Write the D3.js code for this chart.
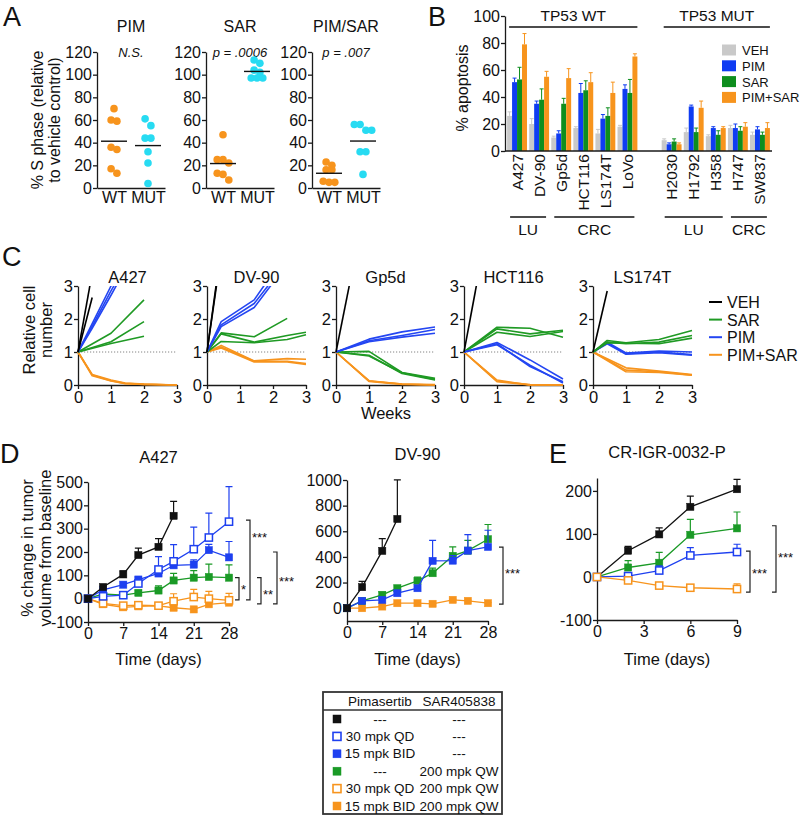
<!DOCTYPE html>
<html><head><meta charset="utf-8">
<script src="https://cdn.jsdelivr.net/npm/d3@7"></script>
<style>body{margin:0;background:#fff} svg{display:block}</style>
</head><body><svg id="chart" width="800" height="816"></svg>
<script>
// ---------------- DATA ----------------
// Panel A
const aGroups = ["WT", "MUT"];
const aTitles = ["PIM", "SAR", "PIM/SAR"];
const aNotes = ["N.S.", "p = .0006", "p = .007"];
const aYTicks = [0, 20, 40, 60, 80, 100, 120];
const aPimWT = [70, 60, 59, 36, 34, 13, 17];
const aPimMUT = [55, 61, 44, 44, 32, 22, 4];
const aSarWT = [47, 25, 25, 22, 13, 12, 7];
const aSarMUT = [113, 110, 104, 102, 97, 97, 97];
const aComboWT = [23, 20, 16, 16, 6, 5, 5];
const aComboMUT = [56, 56, 51, 51, 32, 32, 12];

// Panel B
const bWT = ["A427", "DV-90", "Gp5d", "HCT116", "LS174T", "LoVo"];
const bMUT = ["H2030", "H1792", "H358", "H747", "SW837"];
const bTissue = ["LU", "LU", "CRC", "CRC", "CRC", "CRC", "LU", "LU", "LU", "CRC", "CRC"];
const bTreat = ["VEH", "PIM", "SAR", "PIM+SAR"];
const bYTicks = [0, 20, 40, 60, 80, 100];
const bVEH = [26, 20, 10, 17, 13, 18, 8, 14, 11, 17, 12];
const bVEHerr = [3, 4, 1, 1, 3, 1, 1, 3, 1, 2, 2];
const bPIM = [51, 35, 13, 43, 24, 46, 5, 33, 17, 17, 16];
const bPIMerr = [3, 2, 2, 7, 3, 3, 1, 1, 1, 3, 2];
const bSAR = [53, 38, 35, 45, 26, 43, 7, 14, 12, 15, 12];
const bSARerr = [9, 8, 4, 7, 6, 10, 2, 3, 3, 3, 2];
const bCOMBO = [79, 55, 54, 51, 43, 70, 5, 32, 17, 18, 17];
const bCOMBOerr = [8, 4, 7, 7, 8, 2, 1, 5, 1, 3, 4];

// Panel C  (weeks, relative cell number)
const cTitles = ["A427", "DV-90", "Gp5d", "HCT116", "LS174T"];
const cTicks = [0, 1, 2, 3];
const cLegend = ["VEH", "SAR", "PIM", "PIM+SAR"];
const cA427 = [
  {t: "PIM+SAR", pts: [[0,1],[0.43,0.32],[1,0.15],[1.43,0.06],[2,0.03],[3,0]]},
  {t: "PIM+SAR", pts: [[0,1],[0.43,0.28],[1,0.12],[1.43,0.04],[2,0.02],[3,0]]},
  {t: "PIM+SAR", pts: [[0,1],[0.43,0.30],[1,0.13],[1.43,0.05],[2,0.02],[3,0]]},
  {t: "SAR", pts: [[0,1],[1,1.57],[2,2.58]]},
  {t: "SAR", pts: [[0,1],[1,1.31],[2,1.92]]},
  {t: "SAR", pts: [[0,1],[1,1.26],[2,1.48]]},
  {t: "PIM", pts: [[0,1],[0.43,1.86],[1,3.0],[1.43,3.8]]},
  {t: "PIM", pts: [[0,1],[0.43,1.72],[1,2.72],[1.43,3.5]]},
  {t: "PIM", pts: [[0,1],[0.43,1.78],[1,2.85],[1.43,3.6]]},
  {t: "VEH", pts: [[0,1],[0.43,3.4]]},
  {t: "VEH", pts: [[0,1],[0.43,2.65]]}
];
const cDV90 = [
  {t: "PIM+SAR", pts: [[0,1],[0.43,1.2],[1.43,0.73],[2.43,0.8],[3,0.78]]},
  {t: "PIM+SAR", pts: [[0,1],[0.43,1.15],[1.43,0.72],[2.43,0.72],[3,0.65]]},
  {t: "PIM+SAR", pts: [[0,1],[0.43,1.12],[1.43,0.7],[2.43,0.7],[3,0.62]]},
  {t: "SAR", pts: [[0,1],[0.43,1.58],[1.43,1.46],[2.43,2.02]]},
  {t: "SAR", pts: [[0,1],[0.43,1.55],[1.43,1.3],[2.43,1.5],[3,1.6]]},
  {t: "SAR", pts: [[0,1],[0.43,1.32],[1.43,1.28],[2.43,1.38],[3,1.52]]},
  {t: "PIM", pts: [[0,1],[0.43,1.92],[1.43,2.58],[2,3.4]]},
  {t: "PIM", pts: [[0,1],[0.43,1.82],[1.43,2.47],[2,3.2]]},
  {t: "PIM", pts: [[0,1],[0.43,1.77],[1.43,2.35],[2,3.1]]},
  {t: "VEH", pts: [[0,1],[0.43,4.0]]},
  {t: "VEH", pts: [[0,1],[0.43,4.15]]}
];
const cGp5d = [
  {t: "PIM+SAR", pts: [[0,1],[1,0.12],[2,0.03],[3,0.01]]},
  {t: "PIM+SAR", pts: [[0,1],[1,0.11],[2,0.02],[3,0]]},
  {t: "PIM+SAR", pts: [[0,1],[1,0.13],[2,0.03],[3,0]]},
  {t: "SAR", pts: [[0,1],[1,1.02],[2,0.38],[3,0.2]]},
  {t: "SAR", pts: [[0,1],[1,0.88],[2,0.37],[3,0.17]]},
  {t: "SAR", pts: [[0,1],[1,0.9],[2,0.35],[3,0.15]]},
  {t: "PIM", pts: [[0,1],[1,1.39],[2,1.61],[3,1.76]]},
  {t: "PIM", pts: [[0,1],[1,1.34],[2,1.5],[3,1.68]]},
  {t: "PIM", pts: [[0,1],[1,1.31],[2,1.45],[3,1.57]]},
  {t: "VEH", pts: [[0,1],[0.43,3.15]]}
];
const cHCT116 = [
  {t: "PIM+SAR", pts: [[0,1],[1,0.15],[2,0],[3,0]]},
  {t: "PIM+SAR", pts: [[0,1],[1,0.1],[2,0],[3,0]]},
  {t: "PIM+SAR", pts: [[0,1],[1,0.12],[2,0.01],[3,0]]},
  {t: "SAR", pts: [[0,1],[1,1.75],[2,1.72],[3,1.45]]},
  {t: "SAR", pts: [[0,1],[1,1.7],[2,1.55],[3,1.66]]},
  {t: "SAR", pts: [[0,1],[1,1.6],[2,1.47],[3,1.62]]},
  {t: "PIM", pts: [[0,1],[1,1.29],[2,0.76],[3,0.18]]},
  {t: "PIM", pts: [[0,1],[1,1.25],[2,0.56],[3,0.1]]},
  {t: "PIM", pts: [[0,1],[1,1.22],[2,0.6],[3,0.06]]},
  {t: "VEH", pts: [[0,1],[0.43,3.3]]}
];
const cLS174T = [
  {t: "PIM+SAR", pts: [[0,1],[1,0.52],[2,0.42],[3,0.32]]},
  {t: "PIM+SAR", pts: [[0,1],[1,0.45],[2,0.4],[3,0.3]]},
  {t: "PIM+SAR", pts: [[0,1],[1,0.4],[2,0.38],[3,0.3]]},
  {t: "PIM", pts: [[0,1],[0.43,1.3],[1,0.97],[2,1.03],[3,1.0]]},
  {t: "PIM", pts: [[0,1],[0.43,1.27],[1,0.95],[2,1.0],[3,0.92]]},
  {t: "PIM", pts: [[0,1],[0.43,1.25],[1,0.93],[2,0.98],[3,0.9]]},
  {t: "SAR", pts: [[0,1],[0.43,1.35],[1,1.28],[2,1.38],[3,1.65]]},
  {t: "SAR", pts: [[0,1],[0.43,1.3],[1,1.25],[2,1.3],[3,1.5]]},
  {t: "SAR", pts: [[0,1],[0.43,1.28],[1,1.27],[2,1.25],[3,1.42]]},
  {t: "VEH", pts: [[0,1],[0.43,2.85]]}
];

// Panel D / E  (days, % change)
const dDays = [0, 3, 7, 10, 14, 17, 21, 24, 28];
const dVehDaysA427 = [0, 3, 7, 10, 14, 17];
const dA427Veh = [0, 50, 104, 187, 222, 355];
const dA427VehErr = [0, 8, 15, 30, 35, 62];
const dA427PimQD = [0, 10, 15, 65, 125, 160, 212, 262, 330];
const dA427PimQDErr = [0, 5, 5, 10, 55, 72, 95, 105, 150];
const dA427PimBID = [0, 38, 60, 82, 108, 143, 146, 208, 177];
const dA427PimBIDErr = [0, 5, 8, 10, 12, 18, 20, 25, 68];
const dA427Sar = [0, 20, 15, 25, 35, 78, 90, 93, 90];
const dA427SarErr = [0, 6, 8, 10, 20, 30, 30, 55, 55];
const dA427ComboQD = [0, -20, -30, -28, -30, -11, 7, 0, -7];
const dA427ComboQDErr = [0, 0, 0, 0, 0, 32, 33, 31, 30];
const dA427ComboBID = [0, -24, -37, -33, -31, -39, -46, -24, -17];
const dA427ComboBIDErr = [0, 5, 5, 5, 5, 5, 5, 5, 5];

const dVehDaysDV90 = [0, 3, 7, 10];
const dDV90Veh = [0, 164, 447, 696];
const dDV90VehErr = [0, 45, 95, 305];
const dDV90PimBID = [0, 57, 65, 117, 156, 369, 371, 449, 478];
const dDV90PimBIDErr = [0, 8, 10, 15, 20, 160, 40, 125, 130];
const dDV90Sar = [0, 57, 104, 156, 213, 273, 408, 449, 538];
const dDV90SarErr = [0, 10, 20, 20, 30, 40, 70, 80, 115];
const dDV90ComboBID = [0, 0, 13, 39, 39, 34, 65, 57, 39];
const dDV90ComboBIDErr = [0, 4, 4, 5, 5, 5, 6, 6, 5];

const eDays = [0, 2, 4, 6, 9];
const eVeh = [0, 61, 99, 163, 204];
const eVehErr = [0, 10, 15, 25, 23];
const eSar = [0, 22, 33, 98, 113];
const eSarErr = [0, 16, 24, 36, 38];
const ePimQD = [0, 2, 15, 50, 58];
const ePimQDErr = [0, 5, 11, 18, 18];
const eComboQD = [0, -8, -20, -25, -28];
const eComboQDErr = [0, 3, 3, 3, 12];

const dA427YTicks = [-100, 0, 100, 200, 300, 400, 500];
const dDV90YTicks = [0, 200, 400, 600, 800, 1000];
const dXTicks = [0, 7, 14, 21, 28];
const eYTicks = [-100, 0, 100, 200];
const eXTicks = [0, 3, 6, 9];

const dA427Brackets = [
  {from: 337, to: -5, dx: 21, label: "***", at: 270},
  {from: 90, to: -5, dx: 10, label: "*", at: 45},
  {from: 90, to: -22, dx: 32, label: "**", at: 24},
  {from: 200, to: -22, dx: 48, label: "***", at: 82}
];
const dDV90Brackets = [{from: 477, to: 31, dx: 15, label: "***", at: 281}];
const eBrackets = [
  {from: 60, to: -35, dx: 13, label: "***", at: 12},
  {from: 119, to: -35, dx: 39, label: "***", at: 49}
];

// Legend table
const legRegimen = ["veh", "pimQD", "pimBID", "sar", "comboQD", "comboBID"];
const legPim = ["---", "30 mpk QD", "15 mpk BID", "---", "30 mpk QD", "15 mpk BID"];
const legSar = ["---", "---", "---", "200 mpk QW", "200 mpk QW", "200 mpk QW"];

// ---------------- STYLE ----------------
const FONT = '"Liberation Sans", Arial, Helvetica, sans-serif';
const ORANGE = "#f7941d", CYAN = "#27dbf2", BLUE = "#1e40f0", GREEN = "#1a9a26", GRAY = "#c9c9c9";
const aColors = [ORANGE, CYAN];
const bColors = {"VEH": GRAY, "PIM": "#0f3cf2", "SAR": "#0e8e1e", "PIM+SAR": ORANGE};
const cColors = {"VEH": "#000", "SAR": "#1f9a24", "PIM": "#2446f2", "PIM+SAR": ORANGE};
const regColor = {veh: "#111", pimQD: BLUE, pimBID: BLUE, sar: GREEN, comboQD: ORANGE, comboBID: ORANGE};
const regOpen = {veh: false, pimQD: true, pimBID: false, sar: false, comboQD: true, comboBID: false};

const svg = d3.select("#chart").attr("font-family", FONT);
svg.append("rect").attr("width", 800).attr("height", 816).attr("fill", "#fff");

function label(x, y, s, o = {}) {
  const t = svg.append("text").attr("x", x).attr("y", y).text(s)
    .attr("font-size", o.size || 15).attr("fill", o.fill || "#111")
    .attr("text-anchor", o.anchor || "middle");
  if (o.italic) t.attr("font-style", "italic");
  if (o.rotate) t.attr("transform", `rotate(${o.rotate},${x},${y})`);
  return t;
}
function styleAxis(g, fs = 16) {
  g.select(".domain").attr("stroke", "#1a1a1a").attr("stroke-width", 1.3);
  g.selectAll(".tick line").attr("stroke", "#1a1a1a").attr("stroke-width", 1.3);
  g.selectAll(".tick text").attr("font-size", fs).attr("fill", "#111").attr("font-family", FONT);
  return g;
}
const fmt = d => String(d);

// panel letters
label(3, 26, "A", {size: 27, anchor: "start"});
label(428, 26, "B", {size: 27, anchor: "start"});
label(2, 266, "C", {size: 27, anchor: "start"});
label(0, 463, "D", {size: 27, anchor: "start"});
label(549, 463, "E", {size: 27, anchor: "start"});

// ---------------- PANEL A ----------------
function swarm(pys, thresh, spacing) {
  const idx = pys.map((_, i) => i).sort((a, b) => pys[a] - pys[b]);
  const rows = [];
  idx.forEach(i => {
    const row = rows[rows.length - 1];
    if (row && pys[i] - pys[row[0]] < thresh) row.push(i); else rows.push([i]);
  });
  const offs = new Array(pys.length).fill(0);
  rows.forEach(row => row.forEach((i, k) => { offs[i] = (k - (row.length - 1) / 2) * spacing; }));
  return offs;
}
const aSets = [[aPimWT, aPimMUT], [aSarWT, aSarMUT], [aComboWT, aComboMUT]];
const aPlotX = [97, 206, 312], aPlotW = 68;
const yA = d3.scaleLinear().domain([0, 120]).range([188, 52]);
aSets.forEach((pair, i) => {
  const x0 = aPlotX[i];
  const xA = d3.scalePoint().domain(aGroups).range([x0, x0 + aPlotW]).padding(0.5);
  styleAxis(svg.append("g").attr("transform", `translate(${x0},0)`)
    .call(d3.axisLeft(yA).tickValues(aYTicks).tickFormat(fmt).tickSize(4).tickSizeOuter(0).tickPadding(1)));
  styleAxis(svg.append("g").attr("transform", `translate(0,${yA(0)})`)
    .call(d3.axisBottom(xA).tickSize(0).tickSizeOuter(0).tickPadding(4)));
  label(x0 + aPlotW / 2, 32, aTitles[i], {size: 16});
  label(x0 + aPlotW / 2, 57, aNotes[i], {size: 13, italic: true});
  pair.forEach((vals, j) => {
    const cx = xA(aGroups[j]);
    const offs = swarm(vals.map(v => yA(v)), 7.2, 5.8);
    svg.append("g").selectAll("circle").data(vals).join("circle")
      .attr("cx", (d, k) => cx + offs[k]).attr("cy", d => yA(d)).attr("r", 3.8).attr("fill", aColors[j]);
    const m = d3.mean(vals);
    svg.append("line").attr("x1", cx - 13).attr("x2", cx + 13).attr("y1", yA(m)).attr("y2", yA(m))
      .attr("stroke", "#111").attr("stroke-width", 1.4);
  });
});
label(43, 120, "% S phase (relative", {size: 16, rotate: -90});
label(60, 120, "to vehicle control)", {size: 16, rotate: -90});

// ---------------- PANEL B ----------------
const bSlots = [...bWT, "_gap", ...bMUT];
const bCells = [...bWT, ...bMUT];
const bVals = {"VEH": [bVEH, bVEHerr], "PIM": [bPIM, bPIMerr], "SAR": [bSAR, bSARerr], "PIM+SAR": [bCOMBO, bCOMBOerr]};
const xB = d3.scaleBand().domain(bSlots).range([506, 771]).paddingInner(0.1).paddingOuter(0.05);
const xSub = d3.scaleBand().domain(bTreat).range([0, xB.bandwidth()]);
const yB = d3.scaleLinear().domain([0, 100]).range([151, 16]);
const bData = [];
bCells.forEach((c, ci) => bTreat.forEach(t => bData.push({c, t, v: bVals[t][0][ci], e: bVals[t][1][ci]})));
svg.append("g").selectAll("rect").data(bData).join("rect")
  .attr("x", d => xB(d.c) + xSub(d.t)).attr("width", xSub.bandwidth())
  .attr("y", d => yB(d.v)).attr("height", d => yB(0) - yB(d.v)).attr("fill", d => bColors[d.t]);
const bErr = svg.append("g");
bData.forEach(d => {
  const cx = xB(d.c) + xSub(d.t) + xSub.bandwidth() / 2;
  bErr.append("path").attr("d", `M${cx},${yB(d.v)}V${yB(d.v + d.e)}M${cx - 2},${yB(d.v + d.e)}H${cx + 2}`)
    .attr("stroke", bColors[d.t]).attr("stroke-width", 1).attr("fill", "none");
});
styleAxis(svg.append("g").attr("transform", "translate(505,0)")
  .call(d3.axisLeft(yB).tickValues(bYTicks).tickFormat(fmt).tickSize(4).tickSizeOuter(0).tickPadding(1)));
svg.append("line").attr("x1", 505).attr("x2", 772).attr("y1", yB(0)).attr("y2", yB(0)).attr("stroke", "#1a1a1a").attr("stroke-width", 1.3);
bCells.forEach(c => {
  const cx = xB(c) + xB.bandwidth() / 2;
  svg.append("text").text(c).attr("transform", `translate(${cx + 5.5},154) rotate(-90)`)
    .attr("text-anchor", "end").attr("font-size", 15.5).attr("fill", "#111");
});
label(468, 88, "% apoptosis", {size: 16, rotate: -90});
// TP53 group headers
[[bWT, "TP53 WT"], [bMUT, "TP53 MUT"]].forEach(([cells, name]) => {
  const x1 = xB(cells[0]) + 2, x2 = xB(cells[cells.length - 1]) + xB.bandwidth();
  svg.append("line").attr("x1", x1).attr("x2", x2).attr("y1", 27).attr("y2", 27).attr("stroke", "#111").attr("stroke-width", 1.3);
  label((x1 + x2) / 2, 21, name, {size: 15.5});
});
// tissue runs
const runs = [];
bCells.forEach((c, i) => {
  const last = runs[runs.length - 1];
  const status = i < bWT.length ? "WT" : "MUT";
  if (last && last.tissue === bTissue[i] && last.status === status) last.cells.push(c);
  else runs.push({tissue: bTissue[i], status, cells: [c]});
});
runs.forEach(r => {
  const x1 = xB(r.cells[0]) + 3, x2 = xB(r.cells[r.cells.length - 1]) + xB.bandwidth() - 3;
  svg.append("line").attr("x1", x1).attr("x2", x2).attr("y1", 217).attr("y2", 217).attr("stroke", "#111").attr("stroke-width", 1.3);
  label((x1 + x2) / 2, 235, r.tissue, {size: 15.5});
});
// legend B
bTreat.forEach((t, i) => {
  const cy = 50 + i * 15.8;
  svg.append("rect").attr("x", 722).attr("y", cy - 5.5).attr("width", 14).attr("height", 11).attr("fill", bColors[t]);
  label(742, cy + 5, t, {size: 13, anchor: "start"});
});

// ---------------- PANEL C ----------------
const cPlots = [cA427, cDV90, cGp5d, cHCT116, cLS174T];
const cX0 = [78, 207, 336, 464, 593], cPW = 99;
const yC = d3.scaleLinear().domain([0, 3]).range([385, 286]);
cPlots.forEach((series, i) => {
  const x0 = cX0[i];
  const xC = d3.scaleLinear().domain([0, 3]).range([x0, x0 + cPW]);
  const id = "clipC" + i;
  svg.append("clipPath").attr("id", id).append("rect")
    .attr("x", x0 - 2).attr("y", yC(3)).attr("width", cPW + 4).attr("height", yC(0) - yC(3) + 3);
  svg.append("line").attr("x1", x0).attr("x2", x0 + cPW).attr("y1", yC(1)).attr("y2", yC(1))
    .attr("stroke", "#666").attr("stroke-width", 0.8).attr("stroke-dasharray", "1.2,1.8");
  styleAxis(svg.append("g").attr("transform", `translate(${x0},0)`)
    .call(d3.axisLeft(yC).tickValues(cTicks).tickFormat(fmt).tickSize(4).tickSizeOuter(0).tickPadding(1)), 16.5);
  styleAxis(svg.append("g").attr("transform", `translate(0,${yC(0)})`)
    .call(d3.axisBottom(xC).tickValues(cTicks).tickFormat(fmt).tickSize(4).tickSizeOuter(0).tickPadding(2)), 16.5);
  const g = svg.append("g").attr("clip-path", `url(#${id})`);
  const line = d3.line().x(d => xC(d[0])).y(d => yC(d[1]));
  series.forEach(s => g.append("path").datum(s.pts).attr("d", line).attr("fill", "none")
    .attr("stroke", cColors[s.t]).attr("stroke-width", 1.6).attr("stroke-linejoin", "round"));
  label(x0 + cPW / 2, 283, cTitles[i], {size: 16.5});
});
label(386, 419, "Weeks", {size: 16.5});
label(35, 330, "Relative cell", {size: 16.5, rotate: -90});
label(52, 330, "number", {size: 16.5, rotate: -90});
cLegend.forEach((t, i) => {
  const cy = 302 + i * 17.6;
  svg.append("line").attr("x1", 709).attr("x2", 722).attr("y1", cy).attr("y2", cy).attr("stroke", cColors[t]).attr("stroke-width", 2);
  label(727, cy + 6, t, {size: 16, anchor: "start"});
});

// ---------------- PANELS D / E ----------------
function tumorPlot(p) {
  const x = d3.scaleLinear().domain(p.xDomain).range([p.x0, p.x1]);
  const y = d3.scaleLinear().domain(p.yDomain).range(p.yRange);
  styleAxis(svg.append("g").attr("transform", `translate(${p.x0},0)`)
    .call(d3.axisLeft(y).tickValues(p.yTicks).tickFormat(fmt).tickSize(4).tickSizeOuter(0).tickPadding(1)));
  styleAxis(svg.append("g").attr("transform", `translate(0,${y(p.yDomain[0])})`)
    .call(d3.axisBottom(x).tickValues(p.xTicks).tickFormat(fmt).tickSize(4).tickSizeOuter(0).tickPadding(2)));
  const line = d3.line().x(d => x(d.d)).y(d => y(d.v));
  p.series.forEach(s => {
    const pts = s.days.map((d, k) => ({d, v: s.vals[k], e: s.errs[k]}));
    const col = regColor[s.reg];
    svg.append("path").datum(pts).attr("d", line).attr("fill", "none").attr("stroke", col).attr("stroke-width", 1.3);
    pts.forEach(q => {
      if (q.e > 0) {
        const cx = x(q.d), y1 = y(q.v), y2 = y(q.v + q.e);
        svg.append("path").attr("d", `M${cx},${y1}V${y2}M${cx - 3.5},${y2}H${cx + 3.5}`)
          .attr("stroke", col).attr("stroke-width", 1.2).attr("fill", "none");
      }
    });
    svg.append("g").selectAll("rect").data(pts).join("rect")
      .attr("x", q => x(q.d) - 3.6).attr("y", q => y(q.v) - 3.6).attr("width", 7.2).attr("height", 7.2)
      .attr("fill", regOpen[s.reg] ? "#fff" : col).attr("stroke", col).attr("stroke-width", regOpen[s.reg] ? 1.5 : 0.5);
  });
  p.brackets.forEach(b => {
    const bx = p.x1 + b.dx, y1 = y(b.from), y2 = y(b.to);
    svg.append("path").attr("d", `M${bx - 4},${y1}H${bx}V${y2}H${bx - 4}`)
      .attr("fill", "none").attr("stroke", "#222").attr("stroke-width", 1.2);
    label(bx + 2, y(b.at) + 6, b.label, {size: 13, anchor: "start"});
  });
  label((p.x0 + p.x1) / 2, p.titleY, p.title, {size: 16.5});
  label((p.x0 + p.x1) / 2, 665, "Time (days)", {size: 16.5});
}
tumorPlot({
  x0: 88, x1: 229, xDomain: [0, 28], yDomain: [-100, 500], yRange: [622, 482],
  yTicks: dA427YTicks, xTicks: dXTicks, title: "A427", titleY: 463,
  series: [
    {reg: "comboBID", days: dDays, vals: dA427ComboBID, errs: dA427ComboBIDErr},
    {reg: "comboQD", days: dDays, vals: dA427ComboQD, errs: dA427ComboQDErr},
    {reg: "sar", days: dDays, vals: dA427Sar, errs: dA427SarErr},
    {reg: "pimBID", days: dDays, vals: dA427PimBID, errs: dA427PimBIDErr},
    {reg: "pimQD", days: dDays, vals: dA427PimQD, errs: dA427PimQDErr},
    {reg: "veh", days: dVehDaysA427, vals: dA427Veh, errs: dA427VehErr}
  ],
  brackets: dA427Brackets
});
tumorPlot({
  x0: 347, x1: 488, xDomain: [0, 28], yDomain: [-100, 1000], yRange: [621, 480],
  yTicks: dDV90YTicks, xTicks: dXTicks, title: "DV-90", titleY: 460,
  series: [
    {reg: "comboBID", days: dDays, vals: dDV90ComboBID, errs: dDV90ComboBIDErr},
    {reg: "sar", days: dDays, vals: dDV90Sar, errs: dDV90SarErr},
    {reg: "pimBID", days: dDays, vals: dDV90PimBID, errs: dDV90PimBIDErr},
    {reg: "veh", days: dVehDaysDV90, vals: dDV90Veh, errs: dDV90VehErr}
  ],
  brackets: dDV90Brackets
});
tumorPlot({
  x0: 597, x1: 737, xDomain: [0, 9], yDomain: [-100, 230], yRange: [620, 478],
  yTicks: eYTicks, xTicks: eXTicks, title: "CR-IGR-0032-P", titleY: 458,
  series: [
    {reg: "sar", days: eDays, vals: eSar, errs: eSarErr},
    {reg: "veh", days: eDays, vals: eVeh, errs: eVehErr},
    {reg: "pimQD", days: eDays, vals: ePimQD, errs: ePimQDErr},
    {reg: "comboQD", days: eDays, vals: eComboQD, errs: eComboQDErr}
  ],
  brackets: eBrackets
});
label(33, 548, "% change in tumor", {size: 16.5, rotate: -90});
label(51, 548, "volume from baseline", {size: 16.5, rotate: -90});

// ---------------- LEGEND TABLE ----------------
svg.append("rect").attr("x", 323).attr("y", 692).attr("width", 179).attr("height", 122)
  .attr("fill", "none").attr("stroke", "#333").attr("stroke-width", 1.8);
svg.append("line").attr("x1", 323).attr("x2", 502).attr("y1", 710).attr("y2", 710).attr("stroke", "#333").attr("stroke-width", 1.4);
label(380, 706, "Pimasertib", {size: 13.5});
label(459, 706, "SAR405838", {size: 13.5});
legRegimen.forEach((r, i) => {
  const cy = 719 + i * 17.4;
  const col = regColor[r];
  svg.append("rect").attr("x", 333).attr("y", cy - 4).attr("width", 8).attr("height", 8)
    .attr("fill", regOpen[r] ? "#fff" : col).attr("stroke", col).attr("stroke-width", regOpen[r] ? 1.6 : 0.5);
  label(380, cy + 4.5, legPim[i], {size: 13.5});
  label(459, cy + 4.5, legSar[i], {size: 13.5});
});
</script></body></html>
